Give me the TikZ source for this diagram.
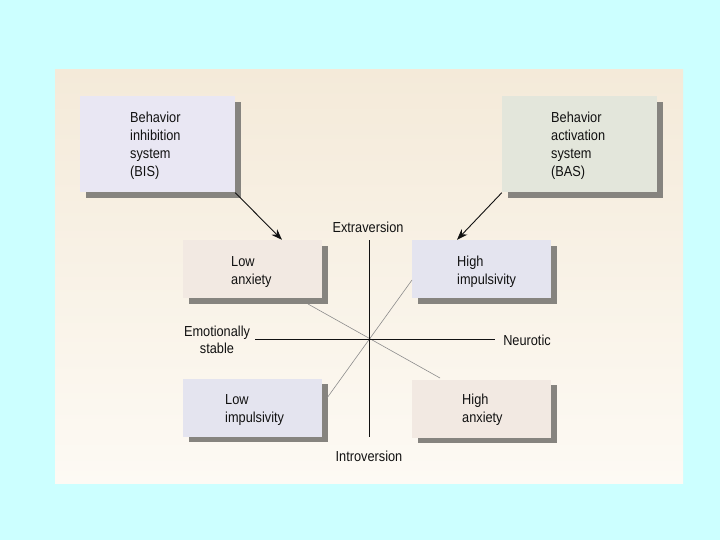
\documentclass[tikz,border=0pt]{standalone}
\usepackage{fontspec}
\setmainfont{Liberation Sans}[FakeStretch=0.88]
\usetikzlibrary{arrows.meta, shadows}
\definecolor{bgsky}{HTML}{CCFFFF}
\definecolor{paneltop}{HTML}{F4EAD9}
\definecolor{panelbot}{HTML}{FDFAF4}
\definecolor{bisfill}{HTML}{E9E7F3}
\definecolor{basfill}{HTML}{E3E6DB}
\definecolor{anxfill}{HTML}{F2E9E2}
\definecolor{impfill}{HTML}{E4E4EF}
\definecolor{shadowgray}{HTML}{86847F}
\definecolor{ink}{HTML}{111111}

\begin{document}
\begin{tikzpicture}[
    x = 1pt, y = -1pt,
    > = {Stealth[length=11pt, width=8pt]},
    box/.style     = {inner sep=0pt, minimum width=139pt, minimum height=58pt,
                      general shadow={fill=shadowgray, shadow xshift=5.5pt, shadow yshift=-5.5pt}},
    sysbox/.style  = {box, minimum width=155pt, minimum height=96pt},
    anxbox/.style  = {box, fill=anxfill},
    impbox/.style  = {box, fill=impfill},
    txt/.style     = {anchor=west, align=left, inner sep=0pt, text=ink,
                      font=\fontsize{14.5pt}{18pt}\selectfont},
    axlabel/.style = {align=center, inner sep=0pt, text=ink,
                      font=\fontsize{14.5pt}{17pt}\selectfont},
    flow/.style    = {->, line width=0.9pt, draw=ink},
    axis/.style    = {line width=0.8pt, draw=ink},
    diag/.style    = {line width=0.6pt, draw=black!45},
]

% --------------------------------------------- canvas ---------------------------------------------
\fill[bgsky] (0,0) rectangle (720,540);
\shade[top color=paneltop, bottom color=panelbot] (55,70) rectangle (683,483);

% --------------------------------------------- systems --------------------------------------------
\node[sysbox, fill=bisfill] (bis) at (157.5,144.5) {};
\node[sysbox, fill=basfill] (bas) at (579.5,144.5) {};
\node[txt] (bist) at (130,146) {Behavior\\inhibition\\system\\(BIS)};
\node[txt] (bast) at (551,146) {Behavior\\activation\\system\\(BAS)};

% -------------------------------------------- quadrants -------------------------------------------
\node[anxbox] (lanx) at (252.5,269) {};
\node[impbox] (himp) at (481.5,269) {};
\node[impbox] (limp) at (252.5,407.5) {};
\node[anxbox] (hanx) at (481.5,408.5) {};
\node[txt] (lanxt) at (231,272) {Low\\anxiety};
\node[txt] (himpt) at (457,272) {High\\impulsivity};
\node[txt] (limpt) at (225,410) {Low\\impulsivity};
\node[txt] (hanxt) at (462,410) {High\\anxiety};

% ---------------------------------------------- axes ----------------------------------------------
\node[axlabel] (extra)  at (368,227) {Extraversion};
\node[axlabel] (intro)  at (369,456) {Introversion};
\node[axlabel] (stable) at (217,340) {Emotionally\\stable};
\node[axlabel] (neuro)  at (527,340) {Neurotic};

\coordinate (ytop) at (369,240);
\coordinate (ybot) at (369,437);
\coordinate (xlft) at (255,339);
\coordinate (xrgt) at (495,339);
\coordinate (d1a)  at (308,304);
\coordinate (d1b)  at (440,378);
\coordinate (d2a)  at (412,280);
\coordinate (d2b)  at (327,398);

\draw[diag] (d1a) -- (d1b);
\draw[diag] (d2a) -- (d2b);
\draw[axis] (ytop) -- (ybot);
\draw[axis] (xlft) -- (xrgt);

% --------------------------------------------- arrows ---------------------------------------------
\draw[flow] (bis.south east) -- ([xshift=29.5pt]lanx.north);
\draw[flow] (bas.south west) -- ([xshift=-24.5pt]himp.north);

\end{tikzpicture}
\end{document}
